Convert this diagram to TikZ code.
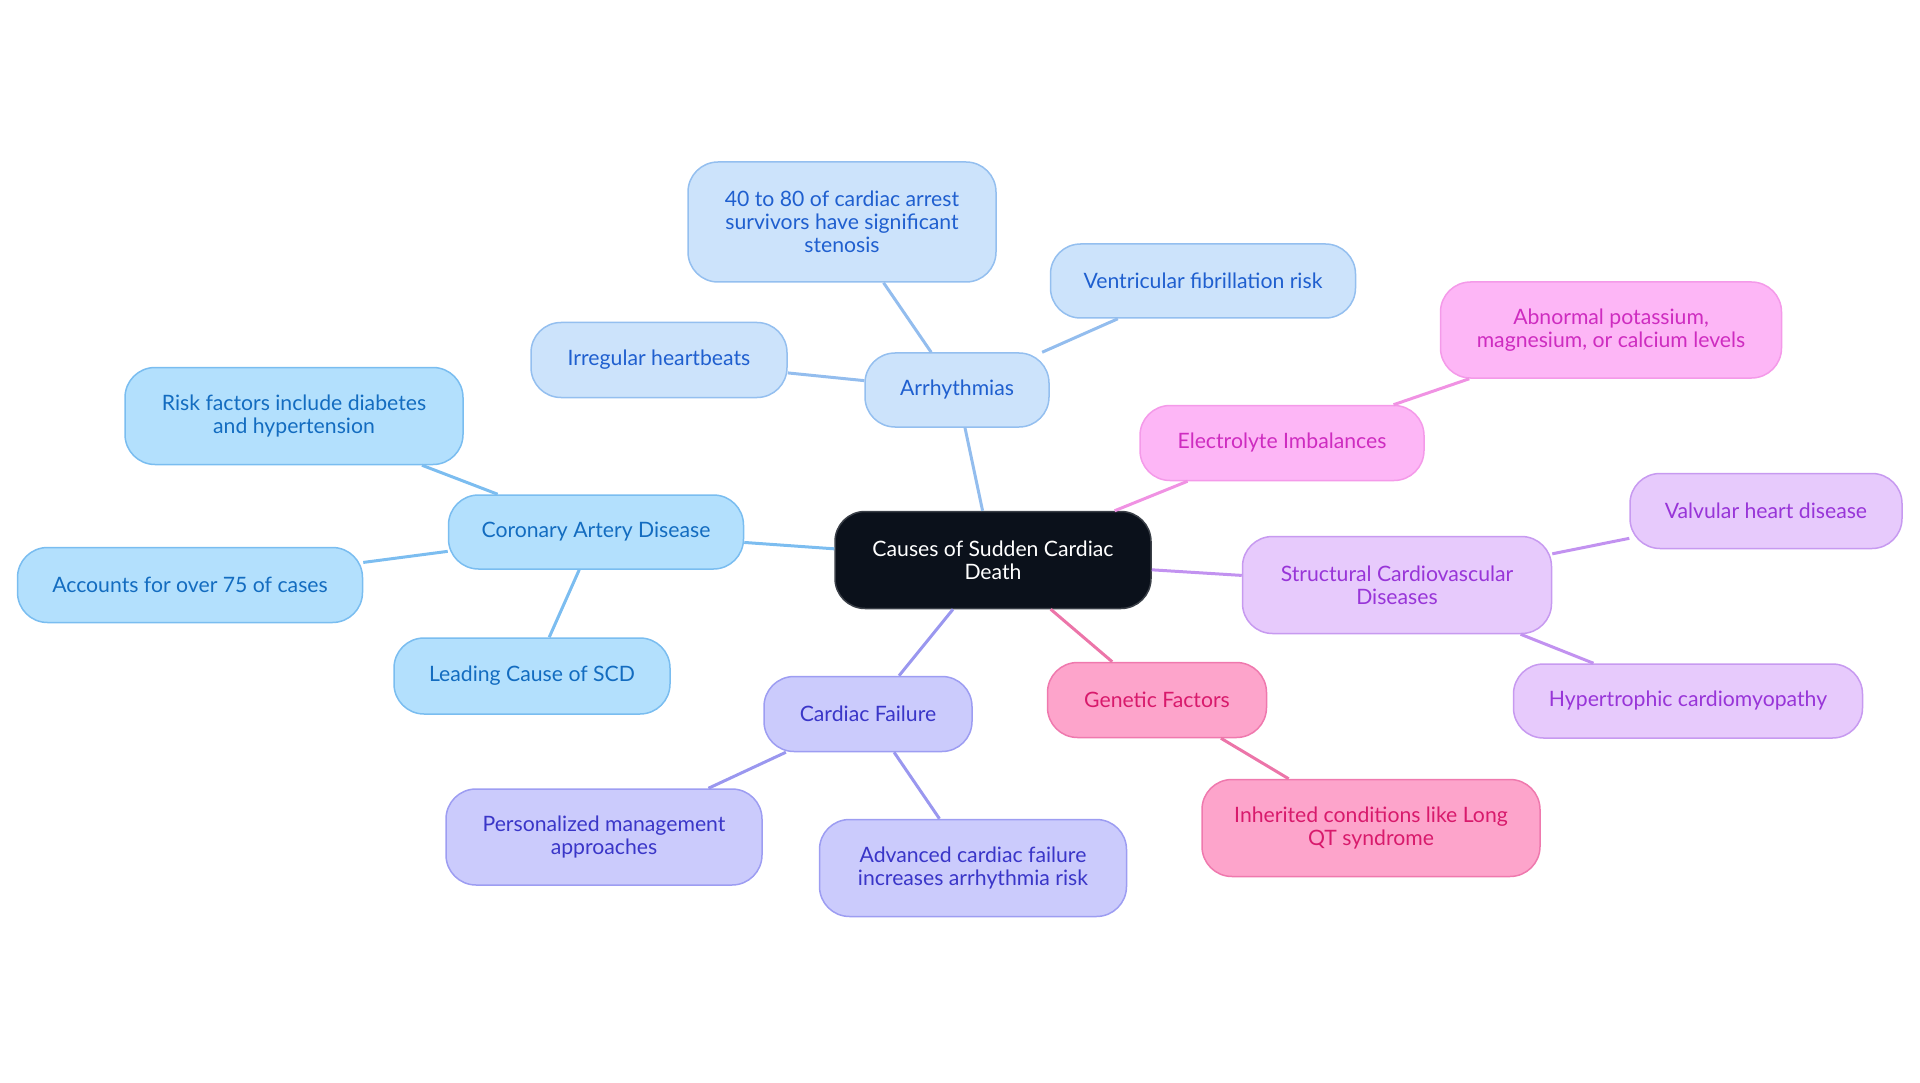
\documentclass[tikz,border=0pt]{standalone}
\usepackage{fontspec}
\setmainfont{Lato}
\definecolor{rootfill}{HTML}{0B111B}
\definecolor{rootdraw}{HTML}{3A3F47}
\definecolor{cadfill}{HTML}{B3E0FD}
\definecolor{caddraw}{HTML}{7ABDF0}
\definecolor{cadtext}{HTML}{136CC0}
\definecolor{arrfill}{HTML}{CCE3FB}
\definecolor{arrdraw}{HTML}{94BFEF}
\definecolor{arrtext}{HTML}{1F5FCF}
\definecolor{elefill}{HTML}{FDB6F6}
\definecolor{eledraw}{HTML}{F49AE9}
\definecolor{eletext}{HTML}{CE2CC0}
\definecolor{strfill}{HTML}{E7CAFC}
\definecolor{strdraw}{HTML}{C79AF0}
\definecolor{strtext}{HTML}{9835D8}
\definecolor{genfill}{HTML}{FDA4CB}
\definecolor{gendraw}{HTML}{EF79AE}
\definecolor{gentext}{HTML}{D81A6C}
\definecolor{cffill}{HTML}{CBCBFC}
\definecolor{cfdraw}{HTML}{9D9DF2}
\definecolor{cftext}{HTML}{3A36C8}
\definecolor{cadedge}{HTML}{7CBDF0}
\definecolor{arredge}{HTML}{93BDEE}
\definecolor{eleedge}{HTML}{F092E3}
\definecolor{stredge}{HTML}{C292F0}
\definecolor{genedge}{HTML}{EC75A9}
\definecolor{cfedge}{HTML}{9A97EF}
\tikzset{
  box/.style={rounded corners=30pt, line width=1.5pt, align=center, inner sep=0pt,
    font=\fontsize{21.2}{23}\selectfont},
  rootbox/.style={box, fill=rootfill, draw=rootdraw, text=white},
  cadbox/.style={box, fill=cadfill, draw=caddraw, text=cadtext},
  arrbox/.style={box, fill=arrfill, draw=arrdraw, text=arrtext},
  elebox/.style={box, fill=elefill, draw=eledraw, text=eletext},
  strbox/.style={box, fill=strfill, draw=strdraw, text=strtext},
  genbox/.style={box, fill=genfill, draw=gendraw, text=gentext},
  cfbox/.style={box, fill=cffill, draw=cfdraw, text=cftext},
  edge/.style={line width=3pt},
  sz/.style n args={2}{minimum width=#1pt, minimum height=#2pt}
}
\begin{document}
\begin{tikzpicture}[x=1pt,y=-1pt]
\path[use as bounding box] (0,0) rectangle (1920,1083);
% nodes
\node[rootbox, sz={316}{97}] (root) at (993,560) {Causes of Sudden Cardiac\\Death};
\node[cadbox, sz={295}{74}] (cad) at (596,532) {Coronary Artery Disease};
\node[cadbox, sz={338}{97}] (risk) at (294,416) {Risk factors include diabetes\\and hypertension};
\node[cadbox, sz={345}{75}] (acc) at (190,585) {Accounts for over 75 of cases};
\node[cadbox, sz={276}{76}] (lead) at (532,676) {Leading Cause of SCD};
\node[arrbox, sz={184}{74}] (arr) at (957,390) {Arrhythmias};
\node[arrbox, sz={308}{120}] (forty) at (842,222) {40 to 80 of cardiac arrest\\survivors have significant\\stenosis};
\node[arrbox, sz={305}{74}] (vent) at (1203,281) {Ventricular fibrillation risk};
\node[arrbox, sz={256}{75}] (irr) at (659,360) {Irregular heartbeats};
\node[elebox, sz={284}{75}] (ele) at (1282,443) {Electrolyte Imbalances};
\node[elebox, sz={341}{96}] (abn) at (1611,330) {Abnormal potassium,\\magnesium, or calcium levels};
\node[strbox, sz={309}{97}] (str) at (1397,585) {Structural Cardiovascular\\Diseases};
\node[strbox, sz={272}{75}] (val) at (1766,511) {Valvular heart disease};
\node[strbox, sz={349}{74}] (hyp) at (1688,701) {Hypertrophic cardiomyopathy};
\node[genbox, sz={219}{75}] (gen) at (1157,700) {Genetic Factors};
\node[genbox, sz={338}{97}] (inh) at (1371,828) {Inherited conditions like Long\\QT syndrome};
\node[cfbox, sz={208}{75}] (cf) at (868,714) {Cardiac Failure};
\node[cfbox, sz={316}{96}] (per) at (604,837) {Personalized management\\approaches};
\node[cfbox, sz={307}{97}] (adv) at (973,868) {Advanced cardiac failure\\increases arrhythmia risk};
% edges
\draw[edge, cadedge] (root) -- (cad);
\draw[edge, cadedge] (cad) -- (risk);
\draw[edge, cadedge] (cad) -- (acc);
\draw[edge, cadedge] (cad) -- (lead);
\draw[edge, arredge] (root) -- (arr);
\draw[edge, arredge] (arr) -- (forty);
\draw[edge, arredge] (arr) -- (vent);
\draw[edge, arredge] (arr) -- (irr);
\draw[edge, eleedge] (root) -- (ele);
\draw[edge, eleedge] (ele) -- (abn);
\draw[edge, stredge] (root) -- (str);
\draw[edge, stredge] (str) -- (val);
\draw[edge, stredge] (str) -- (hyp);
\draw[edge, genedge] (root) -- (gen);
\draw[edge, genedge] (gen) -- (inh);
\draw[edge, cfedge] (root) -- (cf);
\draw[edge, cfedge] (cf) -- (per);
\draw[edge, cfedge] (cf) -- (adv);
\end{tikzpicture}
\end{document}
